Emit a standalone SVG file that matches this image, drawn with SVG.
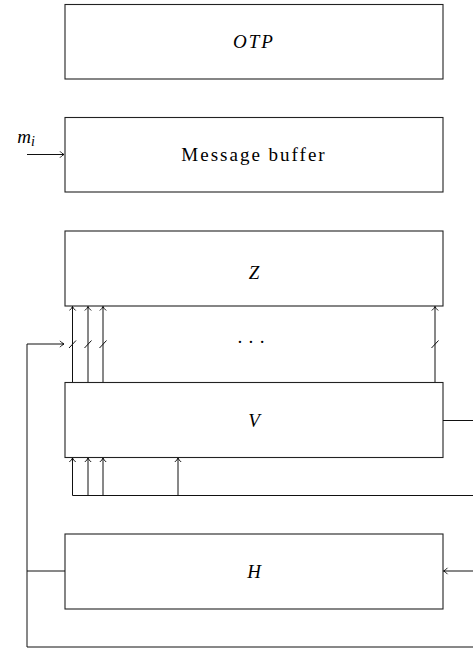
<svg xmlns="http://www.w3.org/2000/svg" width="473" height="648" viewBox="0 0 473 648">
<defs>
<marker id="arr" markerWidth="8" markerHeight="8" refX="7" refY="4" orient="auto" markerUnits="userSpaceOnUse">
<path d="M3,0.8 Q5,3.2 7,4 Q5,4.8 3,7.2" fill="none" stroke="#000" stroke-width="0.9"/>
</marker>
</defs>
<style>
.box{fill:#fff;stroke:#222;stroke-width:1.1}
.ln{fill:none;stroke:#111;stroke-width:1}
.t{font-size:19px;fill:#000;text-anchor:middle}
.it{font-style:italic}
</style>
<g id="otp"><rect class="box" x="65" y="4.5" width="378" height="74.5"/><text class="t it" font-family="Liberation Serif, DejaVu Serif, serif" x="254" y="48" letter-spacing="2">OTP</text></g>
<g id="buffer"><rect class="box" x="65" y="117.5" width="378" height="74.5"/><text class="t" font-family="Liberation Serif, DejaVu Serif, serif" x="254" y="161" letter-spacing="2">Message buffer</text></g>
<g id="z"><rect class="box" x="65" y="231" width="378" height="75"/><text class="t it" font-family="Liberation Serif, DejaVu Serif, serif" x="254" y="279">Z</text></g>
<g id="v"><rect class="box" x="65" y="382.5" width="378" height="75"/><text class="t it" font-family="Liberation Serif, DejaVu Serif, serif" x="254" y="427">V</text></g>
<g id="h"><rect class="box" x="65" y="534" width="378" height="75"/><text class="t it" font-family="Liberation Serif, DejaVu Serif, serif" x="254" y="578">H</text></g>
<g id="dots"><text class="t" font-family="Liberation Serif, DejaVu Serif, serif" x="251" y="348">· · ·</text></g>
<g id="mi-label"><text class="t it" font-family="Liberation Serif, DejaVu Serif, serif" font-size="20" x="26" y="143">m<tspan font-size="14" dy="3">i</tspan></text></g>
<g id="connectors">
<path class="ln" d="M27,154.5 H64" marker-end="url(#arr)"/>
<path class="ln" d="M72.5,382 V306.5" marker-end="url(#arr)"/>
<path class="ln" d="M88,382 V306.5" marker-end="url(#arr)"/>
<path class="ln" d="M103,382 V306.5" marker-end="url(#arr)"/>
<path class="ln" d="M435,382 V306.5" marker-end="url(#arr)"/>
<path class="ln" d="M69,348 L76,340.5 M84.5,348 L91.5,340.5 M99.5,348 L106.5,340.5 M431.5,348 L438.5,340.5"/>
<path class="ln" d="M27,647 V344 H64" marker-end="url(#arr)"/>
<path class="ln" d="M27,571 H65"/>
<path class="ln" d="M27,647 H473"/>
<path class="ln" d="M473,495.5 H72.5 V458" marker-end="url(#arr)"/>
<path class="ln" d="M88,495.5 V458" marker-end="url(#arr)"/>
<path class="ln" d="M103,495.5 V458" marker-end="url(#arr)"/>
<path class="ln" d="M178,495.5 V458" marker-end="url(#arr)"/>
<path class="ln" d="M443,420.5 H473"/>
<path class="ln" d="M473,571 H443.5" marker-end="url(#arr)"/>
</g>
</svg>
